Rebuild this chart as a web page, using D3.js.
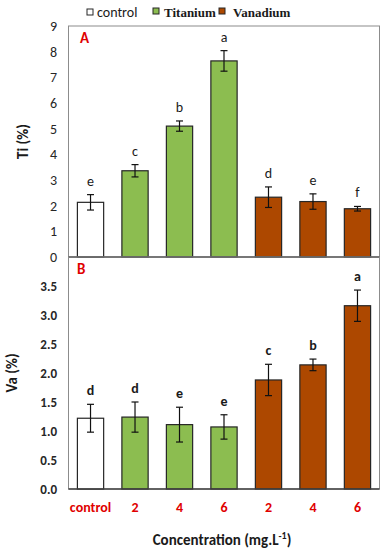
<!DOCTYPE html>
<html>
<head>
<meta charset="utf-8">
<script src="https://cdn.jsdelivr.net/npm/d3@7"></script>
<style>
  body { margin: 0; background: #fff; }
  svg { display: block; }
</style>
</head>
<body>
<div id="chart"></div>
<script>
// Categories along the x axis
const categories = ["control", "Ti2", "Ti4", "Ti6", "V2", "V4", "V6"];
const tickLabels = ["control", "2", "4", "6", "2", "4", "6"];
const groups = ["control", "Titanium", "Titanium", "Titanium", "Vanadium", "Vanadium", "Vanadium"];

// Panel A: Ti (%)
const tiValues = [2.13, 3.36, 5.10, 7.64, 2.33, 2.16, 1.88];
const tiErrors = [0.30, 0.24, 0.20, 0.40, 0.40, 0.30, 0.09];
const tiLetters = ["e", "c", "b", "a", "d", "e", "f"];
const tiTicks = [0, 1, 2, 3, 4, 5, 6, 7, 8, 9];

// Panel B: Va (%)
const vaValues = [1.22, 1.24, 1.11, 1.07, 1.88, 2.14, 3.16];
const vaErrors = [0.24, 0.26, 0.30, 0.21, 0.27, 0.10, 0.27];
const vaLetters = ["d", "d", "e", "e", "c", "b", "a"];
const vaTicks = [0, 0.5, 1, 1.5, 2, 2.5, 3, 3.5];

const legendItems = ["control", "Titanium", "Vanadium"];
const color = { control: "#ffffff", Titanium: "#8cbd50", Vanadium: "#ad4800" };

const width = 386, height = 550;
const left = 68.5, right = 379.5;

const svg = d3.select("#chart").append("svg")
    .attr("width", width)
    .attr("height", height);

// Shared x band scale for both panels
const x = d3.scaleBand()
    .domain(categories)
    .range([left, right])
    .paddingInner(0.41)
    .paddingOuter(0.2);

const sans = "Calibri, Carlito, 'Open Sans', sans-serif";

// draw one panel
function drawPanel(cfg) {
    const y = d3.scaleLinear().domain(cfg.domain).range([cfg.bottom, cfg.top]);
    const g = svg.append("g");

    // frame (gray)
    g.append("rect")
        .attr("x", left).attr("y", cfg.top)
        .attr("width", right - left).attr("height", cfg.bottom - cfg.top)
        .attr("fill", "none").attr("stroke", "#8c8c8c").attr("stroke-width", 1);

    // y ticks
    g.selectAll(".ytick")
        .data(cfg.ticks)
        .enter().append("text")
            .attr("x", 57)
            .attr("y", d => y(d))
            .attr("dy", "0.35em")
            .attr("text-anchor", "end")
            .attr("font-family", sans)
            .attr("font-size", cfg.bold ? 13 : 14)
            .attr("font-weight", cfg.bold ? "bold" : "normal")
            .attr("fill", "#262626")
            .text(cfg.fmt);

    // bars
    g.selectAll(".bar")
        .data(cfg.values)
        .enter().append("rect")
            .attr("x", (d, i) => x(categories[i]))
            .attr("y", d => y(d))
            .attr("width", x.bandwidth())
            .attr("height", d => cfg.bottom - y(d))
            .attr("fill", (d, i) => color[groups[i]])
            .attr("stroke", "#262626")
            .attr("stroke-width", 1.2);

    // error bars
    const eb = g.selectAll(".err")
        .data(cfg.values)
        .enter().append("g")
            .attr("transform", (d, i) => `translate(${x(categories[i]) + x.bandwidth() / 2},0)`);
    eb.append("line")
        .attr("y1", (d, i) => y(d + cfg.errors[i]))
        .attr("y2", (d, i) => y(d - cfg.errors[i]))
        .attr("stroke", "#111").attr("stroke-width", 1.2);
    eb.selectAll(".cap")
        .data((d, i) => [d + cfg.errors[i], d - cfg.errors[i]])
        .enter().append("line")
            .attr("x1", -3.5).attr("x2", 3.5)
            .attr("y1", d => y(d)).attr("y2", d => y(d))
            .attr("stroke", "#111").attr("stroke-width", 1.2);

    // letters
    g.selectAll(".letter")
        .data(cfg.values)
        .enter().append("text")
            .attr("x", (d, i) => x(categories[i]) + x.bandwidth() / 2)
            .attr("y", (d, i) => y(d + cfg.errors[i]) - 9)
            .attr("text-anchor", "middle")
            .attr("font-family", sans)
            .attr("font-size", 14)
            .attr("font-weight", cfg.bold ? "bold" : "normal")
            .attr("fill", "#1a1a1a")
            .text((d, i) => cfg.letters[i]);

    // x axis line
    g.append("line")
        .attr("x1", left).attr("x2", right)
        .attr("y1", cfg.bottom).attr("y2", cfg.bottom)
        .attr("stroke", "#404040").attr("stroke-width", 1.5);

    // panel letter
    g.append("text")
        .attr("x", cfg.labelX).attr("y", cfg.top + 17)
        .attr("font-family", sans)
        .attr("font-size", 15)
        .attr("font-weight", "bold")
        .attr("fill", "#e00000")
        .text(cfg.label);

    // y title
    g.append("text")
        .attr("transform", `translate(${cfg.titleX},${(cfg.top + cfg.bottom) / 2}) rotate(-90)`)
        .attr("text-anchor", "middle")
        .attr("font-family", sans)
        .attr("font-size", 15)
        .attr("font-weight", "bold")
        .attr("fill", "#1a1a1a")
        .text(cfg.title);
}

drawPanel({
    top: 26, bottom: 257, domain: [0, 9],
    values: tiValues, errors: tiErrors, letters: tiLetters,
    ticks: tiTicks, fmt: d3.format("d"), bold: false,
    label: "A", labelX: 80, title: "Ti (%)", titleX: 28
});

drawPanel({
    top: 257, bottom: 489, domain: [0, 4],
    values: vaValues, errors: vaErrors, letters: vaLetters,
    ticks: vaTicks, fmt: d3.format(".1f"), bold: true,
    label: "B", labelX: 77, title: "Va (%)", titleX: 17
});

// x tick labels
svg.selectAll(".xtick")
    .data(categories)
    .enter().append("text")
        .attr("x", d => x(d) + x.bandwidth() / 2)
        .attr("y", 512)
        .attr("text-anchor", "middle")
        .attr("font-family", sans)
        .attr("font-size", 14)
        .attr("font-weight", "bold")
        .attr("fill", "#e00000")
        .text((d, i) => tickLabels[i]);

// x title
const xt = svg.append("text")
    .attr("x", 222).attr("y", 545)
    .attr("text-anchor", "middle")
    .attr("font-family", sans)
    .attr("font-size", 15)
    .attr("font-weight", "bold")
    .attr("fill", "#1a1a1a");
xt.append("tspan").text("Concentration (mg.L");
xt.append("tspan").attr("dy", -6).attr("font-size", 10).text("-1");
xt.append("tspan").attr("dy", 6).text(")");

// legend
const legendX = [87, 153, 219];
const legend = svg.selectAll(".legend")
    .data(legendItems)
    .enter().append("g")
        .attr("transform", (d, i) => `translate(${legendX[i]},8)`);
legend.append("rect")
    .attr("width", 6).attr("height", 6)
    .attr("y", (d, i) => i === 0 ? 1 : 0)
    .attr("fill", d => color[d])
    .attr("stroke", "#262626").attr("stroke-width", 1);
legend.append("text")
    .attr("x", (d, i) => i === 0 ? 10 : (i === 1 ? 11 : 14))
    .attr("y", 4)
    .attr("dy", "0.35em")
    .attr("font-family", (d, i) => i === 0 ? sans : "'Liberation Serif', 'DejaVu Serif', serif")
    .attr("font-size", (d, i) => i === 0 ? 14 : 13)
    .attr("font-weight", (d, i) => i === 0 ? "normal" : "bold")
    .attr("fill", "#1a1a1a")
    .text(d => d);
</script>
</body>
</html>
